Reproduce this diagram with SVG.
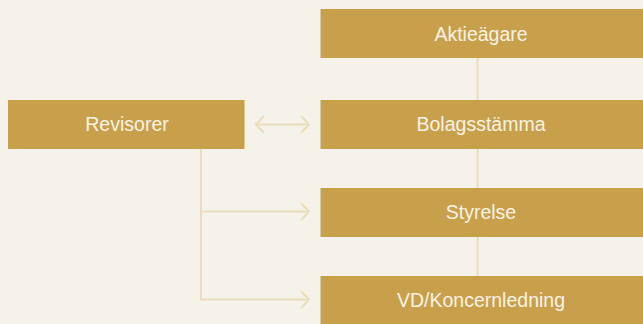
<svg xmlns="http://www.w3.org/2000/svg" width="643" height="324" viewBox="0 0 643 324">
<style>
.box{fill:#c8a04c}
.lbl{font-family:"Liberation Sans",Arial,sans-serif;font-size:19.5px;fill:#f8f2e4;text-anchor:middle}
.ln{stroke:#ecdcbb;stroke-width:2;fill:none}
</style>
<rect width="643" height="324" fill="#f5f2ea"/>
<g id="connectors">
<line class="ln" x1="477.5" y1="58" x2="477.5" y2="276"/>
<line class="ln" x1="256" y1="124.5" x2="309" y2="124.5"/>
<polyline class="ln" points="264,116 256,124.5 264,133"/>
<polyline class="ln" points="301,116 309,124.5 301,133"/>
<polyline class="ln" points="201,149 201,299.5 309,299.5"/>
<line class="ln" x1="201" y1="211.5" x2="309" y2="211.5"/>
<polyline class="ln" points="301,203 309,211.5 301,220"/>
<polyline class="ln" points="301,291 309,299.5 301,308"/>
</g>
<g id="aktieagare"><rect class="box" x="320.5" y="9" width="322.5" height="49"/><text class="lbl" x="481" y="40.5">Aktieägare</text></g>
<g id="bolagsstamma"><rect class="box" x="320.5" y="100" width="322.5" height="49"/><text class="lbl" x="481" y="131">Bolagsstämma</text></g>
<g id="styrelse"><rect class="box" x="320.5" y="188" width="322.5" height="49"/><text class="lbl" x="481" y="219">Styrelse</text></g>
<g id="vd"><rect class="box" x="320.5" y="276" width="322.5" height="48"/><text class="lbl" x="481" y="307">VD/Koncernledning</text></g>
<g id="revisorer"><rect class="box" x="8" y="100" width="236.5" height="49"/><text class="lbl" x="127" y="131">Revisorer</text></g>
</svg>
